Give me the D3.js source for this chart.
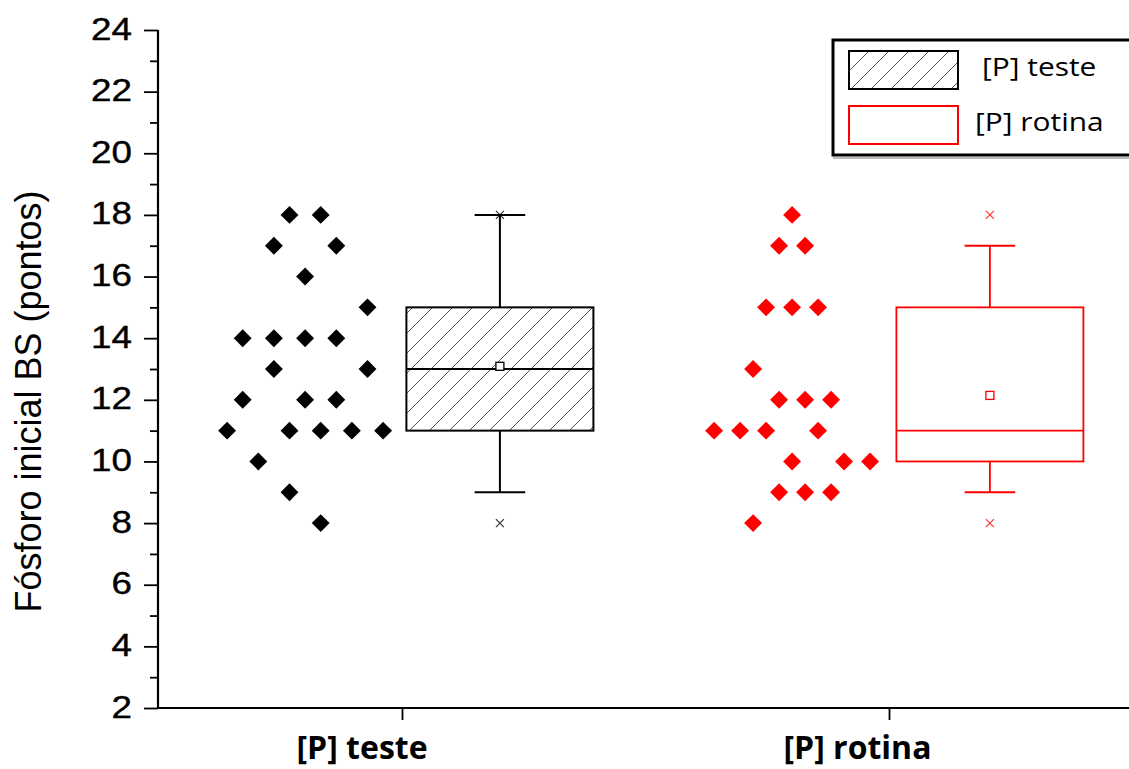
<!DOCTYPE html>
<html>
<head>
<meta charset="utf-8">
<script src="https://cdn.jsdelivr.net/npm/d3@7"></script>
<style>
  html, body { margin: 0; padding: 0; background: #fff; overflow: hidden; }
  svg { display: block; }
</style>
</head>
<body>
<script>
// Group names on the x axis
const categories = ["[P] teste", "[P] rotina"];

// Individual readings per group, with the lane each point sits in
const testeValues = [18, 18, 17, 17, 16, 15, 14, 14, 14, 14, 13, 13, 12, 12, 12, 11, 11, 11, 11, 11, 10, 9, 8];
const testeLanes  = [-1, 1, -2, 2, 0, 4, -4, -2, 0, 2, -2, 4, -4, 0, 2, -5, -1, 1, 3, 5, -3, -1, 1];
const rotinaValues = [18, 17, 17, 15, 15, 15, 13, 12, 12, 12, 11, 11, 11, 11, 10, 10, 10, 9, 9, 9, 8];
const rotinaLanes  = [0, -1, 1, -2, 0, 2, -3, -1, 1, 3, -6, -4, -2, 2, 0, 4, 6, -1, 1, 3, -3];

// Box summaries per group (same order as categories)
const boxQ1 = [11, 10];
const boxMedian = [13, 11];
const boxQ3 = [15, 15];
const whiskerLow = [9, 9];
const whiskerHigh = [18, 17];

// Axis ticks
const yMajorTicks = [2, 4, 6, 8, 10, 12, 14, 16, 18, 20, 22, 24];
const yMinorTicks = [3, 5, 7, 9, 11, 13, 15, 17, 19, 21, 23];

const legendLabels = ["[P] teste", "[P] rotina"];
const groupColors = ["#000000", "#ff0000"];

const W = 1129, H = 769;
const svg = d3.select("body").append("svg").attr("width", W).attr("height", H);

const defs = svg.append("defs");
const hatch = defs.append("pattern")
  .attr("id", "hatch").attr("patternUnits", "userSpaceOnUse")
  .attr("width", 20).attr("height", 20);
hatch.append("path")
  .attr("d", "M0,20 L20,0 M-5,5 L5,-5 M15,25 L25,15")
  .attr("stroke", "#555").attr("stroke-width", 1).attr("fill", "none");

const axisX0 = 158, axisY0 = 708;
const y = d3.scaleLinear().domain([2, 24]).range([708, 30]);
const x = d3.scaleBand().domain(categories).range([159, 1133]).padding(0);
const inner = d3.scalePoint().domain(["pontos", "caixa"]).range([0, x.bandwidth()]).padding(0.75);
const boxW = inner.step() * 0.96;
const capW = inner.step() * 0.26;

const groups = [
  { name: categories[0], values: testeValues, lanes: testeLanes },
  { name: categories[1], values: rotinaValues, lanes: rotinaLanes }
];

// ---- axes ----
const yAxis = svg.append("g").attr("transform", `translate(${axisX0},0)`)
  .call(d3.axisLeft(y).tickValues(yMajorTicks).tickSize(14).tickSizeOuter(0).tickFormat(d3.format("d")));
yAxis.select(".domain").attr("stroke-width", 2.2).attr("d", `M0,${y(24)}V${axisY0}`);
yAxis.selectAll(".tick line").attr("stroke-width", 1.8);
yAxis.selectAll(".tick text")
  .attr("x", 0).attr("dy", null).attr("y", 0)
  .attr("transform", "translate(-26,9) scale(1.15,1)")
  .attr("text-anchor", "end")
  .style("font-family", "'Liberation Sans', Arial, sans-serif")
  .style("font-size", "32px").attr("fill", "#000")
  .attr("stroke", "#000").attr("stroke-width", 0.4);

const yMinor = svg.append("g").attr("transform", `translate(${axisX0},0)`)
  .call(d3.axisLeft(y).tickValues(yMinorTicks).tickSize(8).tickSizeOuter(0).tickFormat(""));
yMinor.select(".domain").remove();
yMinor.selectAll(".tick line").attr("stroke-width", 1.8);

const xAxis = svg.append("g").attr("transform", `translate(0,${axisY0})`)
  .call(d3.axisBottom(x).tickSize(12).tickSizeOuter(0));
xAxis.select(".domain").attr("stroke-width", 2.2).attr("d", `M${axisX0 - 1},0H${W + 5}`);
xAxis.selectAll(".tick line").attr("stroke-width", 1.8);
xAxis.selectAll(".tick text")
  .attr("y", 0).attr("dy", null)
  .attr("transform", "translate(-106,51)")
  .attr("text-anchor", "start")
  .style("font-family", "'Open Sans', sans-serif")
  .style("font-weight", "bold")
  .style("font-size", "32px").attr("fill", "#000");

svg.append("text")
  .attr("transform", `translate(41,${(188 + 615) / 2}) rotate(-90)`)
  .attr("text-anchor", "middle")
  .style("font-family", "'Liberation Sans', Arial, sans-serif")
  .style("font-size", "36px")
  .text("Fósforo inicial BS (pontos)");

// ---- points and boxes ----
const diamond = d3.symbol().type(d3.symbolSquare).size(160)();

groups.forEach((g, i) => {
  const cx = x(g.name);
  const dotCenter = cx + inner("pontos");
  const maxLane = d3.max(g.lanes, l => Math.abs(l));
  const lane = d3.scaleLinear().domain([-maxLane, maxLane]).range([dotCenter - 78, dotCenter + 78]);
  const col = groupColors[i];

  svg.append("g").selectAll("path")
    .data(g.values.map((v, k) => ({ v, l: g.lanes[k] })))
    .join("path")
    .attr("d", diamond)
    .attr("transform", d => `translate(${lane(d.l)},${y(d.v)}) rotate(45)`)
    .attr("fill", col);

  const bc = cx + inner("caixa") + (i === 0 ? 0 : 3);
  const bg = svg.append("g").attr("stroke", col).attr("fill", "none");
  const sw = i === 0 ? 2 : 1.8;

  // whiskers
  bg.append("line").attr("x1", bc).attr("x2", bc).attr("y1", y(boxQ3[i])).attr("y2", y(whiskerHigh[i])).attr("stroke-width", sw);
  bg.append("line").attr("x1", bc).attr("x2", bc).attr("y1", y(boxQ1[i])).attr("y2", y(whiskerLow[i])).attr("stroke-width", sw);
  bg.append("line").attr("x1", bc - capW / 2).attr("x2", bc + capW / 2).attr("y1", y(whiskerHigh[i])).attr("y2", y(whiskerHigh[i])).attr("stroke-width", sw);
  bg.append("line").attr("x1", bc - capW / 2).attr("x2", bc + capW / 2).attr("y1", y(whiskerLow[i])).attr("y2", y(whiskerLow[i])).attr("stroke-width", sw);

  // box
  bg.append("rect")
    .attr("x", bc - boxW / 2).attr("width", boxW)
    .attr("y", y(boxQ3[i])).attr("height", y(boxQ1[i]) - y(boxQ3[i]))
    .attr("fill", i === 0 ? "url(#hatch)" : "none")
    .attr("stroke-width", sw);
  bg.append("line").attr("x1", bc - boxW / 2).attr("x2", bc + boxW / 2)
    .attr("y1", y(boxMedian[i])).attr("y2", y(boxMedian[i])).attr("stroke-width", sw);

  // mean
  const m = d3.mean(g.values);
  bg.append("rect").attr("x", bc - 4).attr("y", y(m) - 4).attr("width", 8).attr("height", 8)
    .attr("fill", "#fff").attr("stroke-width", 1.3);

  // extremes
  [d3.min(g.values), d3.max(g.values)].forEach(v => {
    const yy = y(v);
    bg.append("path").attr("d", `M${bc - 4},${yy - 4}L${bc + 4},${yy + 4}M${bc - 4},${yy + 4}L${bc + 4},${yy - 4}`)
      .attr("stroke-width", 1.2).attr("opacity", 0.8);
  });
});

// ---- legend ----
const lg = svg.append("g");
lg.append("rect").attr("x", 833).attr("y", 40).attr("width", 320).attr("height", 115)
  .attr("fill", "#fff").attr("stroke", "#000").attr("stroke-width", 3);
lg.append("line").attr("x1", 833).attr("x2", 1140).attr("y1", 158).attr("y2", 158).attr("stroke", "#777").attr("stroke-width", 1.2);

const legendRows = [51, 106];
legendLabels.forEach((lab, i) => {
  lg.append("rect").attr("x", 849).attr("y", legendRows[i]).attr("width", 109).attr("height", 38)
    .attr("fill", i === 0 ? "url(#hatch)" : "#fff")
    .attr("stroke", groupColors[i]).attr("stroke-width", 2);
  lg.append("text")
    .attr("transform", `translate(${i === 0 ? 982 : 975},${legendRows[i] + 25}) scale(1.15,1)`)
    .style("font-family", "'Open Sans', sans-serif")
    .style("font-size", "26px")
    .attr("fill", "#000")
    .text(lab);
});
</script>
</body>
</html>
